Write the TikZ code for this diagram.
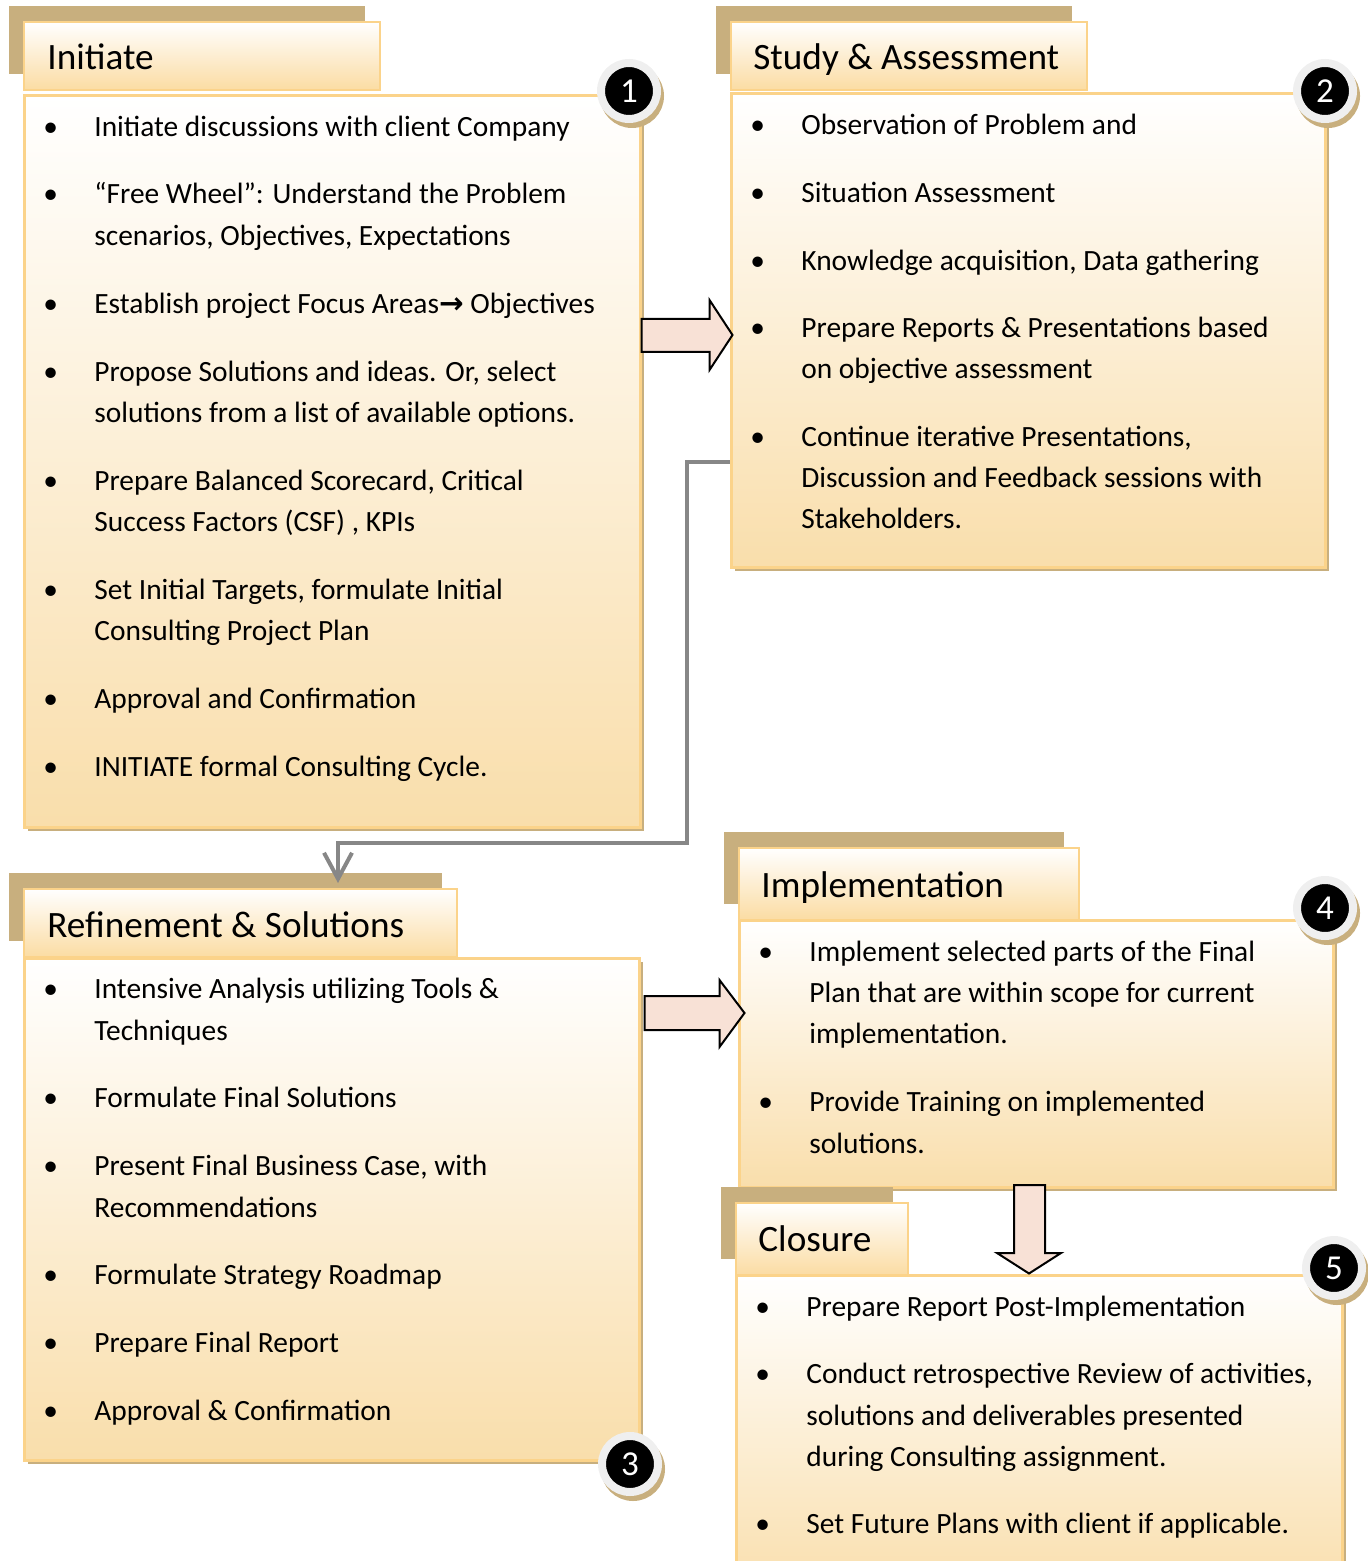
\documentclass[tikz,border=0pt]{standalone}
\usepackage{fontspec}
\setmainfont{Carlito}
\newfontfamily\symfont{DejaVu Sans}
\usetikzlibrary{
    arrows.meta,
    shadows,
    fit,
    positioning
}
\definecolor{tanshade}{HTML}{C8AF7E}
\definecolor{edgeorange}{HTML}{FBD38A}
\definecolor{boxbottom}{HTML}{F9DEAB}
\definecolor{tabbottom}{HTML}{FBDCA3}
\definecolor{arrowfill}{HTML}{F8E1D6}
\definecolor{linkgray}{HTML}{878787}
\definecolor{ringgray}{HTML}{EFEFEF}
\newcommand{\bul}{\makebox[25.5pt][l]{\textbullet}}

\tikzset{
    tabbox/.style={inner sep=0pt, draw=edgeorange, line width=1.2pt,
        top color=white, bottom color=tabbottom,
        general shadow={fill=tanshade, shadow xshift=-7.5pt, shadow yshift=8pt}},
    bodybox/.style={inner sep=0pt, draw=edgeorange, line width=1.5pt,
        top color=white, bottom color=boxbottom,
        general shadow={fill=tanshade, shadow xshift=2pt, shadow yshift=-2pt}},
    badge/.style={circle, fill=black, draw=ringgray, line width=4pt, minimum size=28pt,
        inner sep=0pt, text=white, font=\fontsize{17.5pt}{20pt}\selectfont,
        general shadow={fill=tanshade, draw=tanshade, line width=4pt, shadow xshift=1.5pt, shadow yshift=-2.5pt}},
    heading/.style={anchor=west, inner sep=0pt, font=\fontsize{18.6pt}{22pt}\selectfont,
        text height=13pt, text depth=0.2pt},
    txt/.style={anchor=west, inner sep=0pt, font=\fontsize{14.7pt}{17pt}\selectfont,
        text height=11pt, text depth=0.2pt},
    fatarrow/.style={draw=black, line width=1pt, fill=arrowfill, line join=miter},
    link/.style={draw=linkgray, line width=2pt, -{Straight Barb[length=13pt,width=14pt]}}
}

\begin{document}
\begin{tikzpicture}[x=0.5pt, y=-0.5pt]
    \useasboundingbox (0,0) rectangle (1368,1561);

    % tabs and boxes
    \node[tabbox, fit={(24,22) (380,90)}] (t1) {};
    \node[bodybox, fit={(24,96) (640,827)}] (b1) {};
    \node[tabbox, fit={(731,22) (1087,90)}] (t2) {};
    \node[bodybox, fit={(731,94) (1325,567)}] (b2) {};
    \node[tabbox, fit={(24,889) (457,957)}] (t3) {};
    \node[bodybox, fit={(24,958) (639,1460)}] (b3) {};
    \node[tabbox, fit={(739,848) (1079,920)}] (t4) {};
    \node[bodybox, fit={(739,920) (1333,1187)}] (b4) {};
    \node[tabbox, fit={(736,1203) (908,1275)}] (t5) {};
    \node[bodybox, fit={(736,1275) (1342,1600)}] (b5) {};

    \node[heading] (h1) at (47,57) {Initiate};
    \node[heading] (h2) at (753,57) {Study \& Assessment};
    \node[heading] (h3) at (47,925) {Refinement \& Solutions};
    \node[heading] (h4) at (761,885) {Implementation};
    \node[heading] (h5) at (758,1239) {Closure};

    % initiate
    \node[txt] (p11) at (43,126) {\bul Initiate discussions with client Company};
    \node[txt] (p12) at (43,193) {\bul “Free Wheel”: Understand the Problem};
    \node[txt] (p12b) at (94,235) {scenarios, Objectives, Expectations};
    \node[txt] (p13) at (43,303) {\bul Establish project Focus Areas{\symfont\bfseries →} Objectives};
    \node[txt] (p14) at (43,371) {\bul Propose Solutions and ideas. Or, select};
    \node[txt] (p14b) at (94,412) {solutions from a list of available options.};
    \node[txt] (p15) at (43,480) {\bul Prepare Balanced Scorecard, Critical};
    \node[txt] (p15b) at (94,521) {Success Factors (CSF) , KPIs};
    \node[txt] (p16) at (43,589) {\bul Set Initial Targets, formulate Initial};
    \node[txt] (p16b) at (94,630) {Consulting Project Plan};
    \node[txt] (p17) at (43,698) {\bul Approval and Confirmation};
    \node[txt] (p18) at (43,766) {\bul INITIATE formal Consulting Cycle.};

    % study
    \node[txt] (p21) at (750,124) {\bul Observation of Problem and};
    \node[txt] (p22) at (750,192) {\bul Situation Assessment};
    \node[txt] (p23) at (750,260) {\bul Knowledge acquisition, Data gathering};
    \node[txt] (p24) at (750,327) {\bul Prepare Reports \& Presentations based};
    \node[txt] (p24b) at (801,368) {on objective assessment};
    \node[txt] (p25) at (750,436) {\bul Continue iterative Presentations,};
    \node[txt] (p25b) at (801,477) {Discussion and Feedback sessions with};
    \node[txt] (p25c) at (801,518) {Stakeholders.};

    % refinement
    \node[txt] (p31) at (43,988) {\bul Intensive Analysis utilizing Tools \&};
    \node[txt] (p31b) at (94,1030) {Techniques};
    \node[txt] (p32) at (43,1097) {\bul Formulate Final Solutions};
    \node[txt] (p33) at (43,1165) {\bul Present Final Business Case, with};
    \node[txt] (p33b) at (94,1207) {Recommendations};
    \node[txt] (p34) at (43,1274) {\bul Formulate Strategy Roadmap};
    \node[txt] (p35) at (43,1342) {\bul Prepare Final Report};
    \node[txt] (p36) at (43,1410) {\bul Approval \& Confirmation};

    % implementation
    \node[txt] (p41) at (758,951) {\bul Implement selected parts of the Final};
    \node[txt] (p41b) at (809,992) {Plan that are within scope for current};
    \node[txt] (p41c) at (809,1033) {implementation.};
    \node[txt] (p42) at (758,1101) {\bul Provide Training on implemented};
    \node[txt] (p42b) at (809,1143) {solutions.};

    % closure
    \node[txt] (p51) at (755,1306) {\bul Prepare Report Post-Implementation};
    \node[txt] (p52) at (755,1373) {\bul Conduct retrospective Review of activities,};
    \node[txt] (p52b) at (806,1415) {solutions and deliverables presented};
    \node[txt] (p52c) at (806,1456) {during Consulting assignment.};
    \node[txt] (p53) at (755,1523) {\bul Set Future Plans with client if applicable.};

    % connectors
    \coordinate (tip3) at (338,883);
    \draw[link] (b2.west |- 0,462) -| (687,843) -| (tip3);

    \draw[fatarrow] (b1.east |- 0,319) -- ++(68,0) -- ++(0,-19) -- ++(23,35)
        -- ++(-23,35) -- ++(0,-18) -- ++(-68,0) -- cycle;
    \draw[fatarrow] (b3.east |- 0,996) ++(4,0) -- ++(75,0) -- ++(0,-16) -- ++(25,33)
        -- ++(-25,34) -- ++(0,-17) -- ++(-75,0) -- cycle;
    \draw[fatarrow] (1014,1185) -- (1014,1253) -- (997,1253) -- (b5.north -| 1029,0)
        -- (1061,1253) -- (1045,1253) -- (1045,1185) -- cycle;

    \node[badge] (n1) at (629,91) {1};
    \node[badge] (n2) at (1325,91) {2};
    \node[badge] (n3) at (630,1464) {3};
    \node[badge] (n4) at (1325,908) {4};
    \node[badge] (n5) at (1334,1268) {5};
\end{tikzpicture}
\end{document}
